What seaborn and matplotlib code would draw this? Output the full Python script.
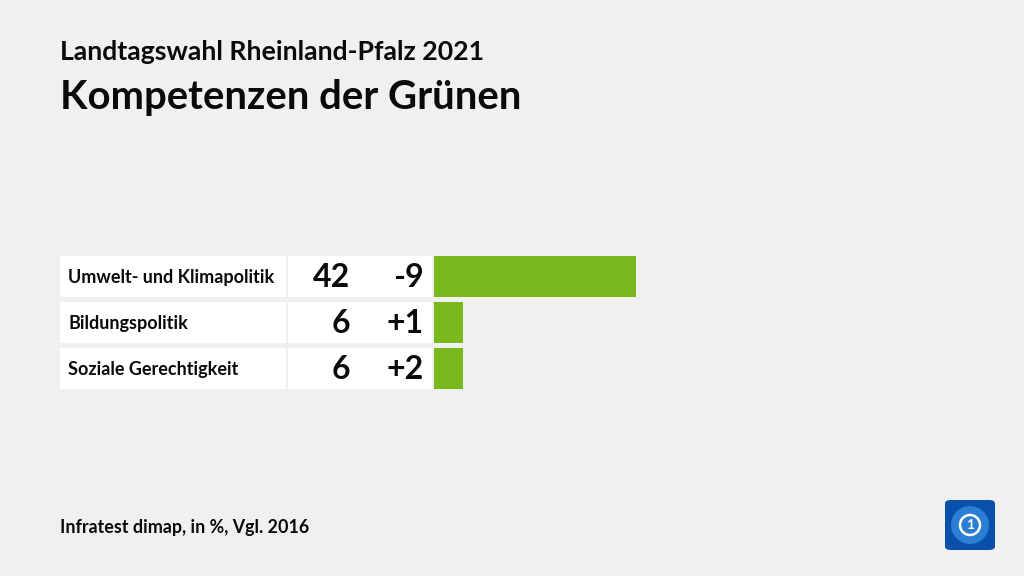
import matplotlib
matplotlib.use("Agg")
import matplotlib.pyplot as plt
import seaborn as sns
import pandas as pd
from matplotlib.patches import Rectangle, FancyBboxPatch, Ellipse
from matplotlib.transforms import blended_transform_factory

categories = ["Umwelt- und Klimapolitik", "Bildungspolitik", "Soziale Gerechtigkeit"]
values = [42, 6, 6]
changes = ["-9", "+1", "+2"]
title_top = "Landtagswahl Rheinland-Pfalz 2021"
title_main = "Kompetenzen der Grünen"
footer = "Infratest dimap, in %, Vgl. 2016"

BG = "#f0f0f0"
GREEN = "#78b91e"
TXT = "#0a0a0a"

sns.set_theme(style="white")
plt.rcParams["font.family"] = ["Lato", "DejaVu Sans"]

W, H = 1024, 576
fig = plt.figure(figsize=(W / 100, H / 100), dpi=100, facecolor=BG)

# axes for bars: x from 434 px, y rows 256..389 px
x0, x1 = 434, 934
y_top, y_bot = 256, 389
ax = fig.add_axes([x0 / W, 1 - y_bot / H, (x1 - x0) / W, (y_bot - y_top) / H])
ax.set_facecolor("none")
px_per_unit = 202 / 42
df = pd.DataFrame({"cat": categories, "val": values})
sns.barplot(data=df, x="val", y="cat", orient="h", color=GREEN, width=41 / 46,
            saturation=1, ax=ax)
for p in ax.patches:
    p.set_edgecolor("none")
ax.set_xlim(0, (x1 - x0) / px_per_unit)
half = 0.5 - (46 - 41) / 2 / 46
ax.set_ylim(len(categories) - 1 + half, -half)
ax.axis("off")

tr = blended_transform_factory(fig.transFigure, ax.transData)
bh = 41 / 46
for i, (c, v, d) in enumerate(zip(categories, values, changes)):
    ax.add_patch(Rectangle((60 / W, i - bh / 2), (286 - 60) / W, bh, transform=tr,
                           facecolor="white", edgecolor="none", clip_on=False))
    ax.add_patch(Rectangle((288 / W, i - bh / 2), (432 - 288) / W, bh, transform=tr,
                           facecolor="white", edgecolor="none", clip_on=False))
    ax.text(68 / W, i + 0.02, c, transform=tr, ha="left", va="center", fontsize=13,
            fontweight="bold", color=TXT)
    ax.text(350 / W, i + 0.02, str(v), transform=tr, ha="right", va="center", fontsize=23,
            fontweight="bold", color=TXT)
    ax.text(424 / W, i + 0.02, d, transform=tr, ha="right", va="center", fontsize=23,
            fontweight="bold", color=TXT)

fig.text(60 / W, 1 - 52 / H, title_top, ha="left", va="center", fontsize=19.2,
         fontweight="bold", color=TXT)
fig.text(60 / W, 1 - 98 / H, title_main, ha="left", va="center", fontsize=28.8,
         fontweight="bold", color=TXT)
fig.text(60 / W, 1 - 527 / H, footer, ha="left", va="center", fontsize=12.9,
         fontweight="bold", color=TXT)

# logo
lx, ly, ls = 945, 500, 50
cx, cy = (lx + 25) / W, 1 - (ly + 25) / H
fig.patches.append(FancyBboxPatch((lx / W, 1 - (ly + ls) / H), ls / W, ls / H,
                                  boxstyle="round,pad=0,rounding_size=0.006",
                                  transform=fig.transFigure, facecolor="#0a4fa8",
                                  edgecolor="none"))
fig.patches.append(Ellipse((cx, cy), 38 / W, 38 / H, transform=fig.transFigure,
                           facecolor="#2a7fd4", edgecolor="none"))
fig.patches.append(Ellipse((cx, cy), 20 / W, 20 / H, transform=fig.transFigure,
                           facecolor="none", edgecolor="white", linewidth=1.8))
fig.text(cx, cy, "1", ha="center", va="center", fontsize=10,
         fontweight="bold", color="white")

fig.savefig("out.png", dpi=100, facecolor=BG)
